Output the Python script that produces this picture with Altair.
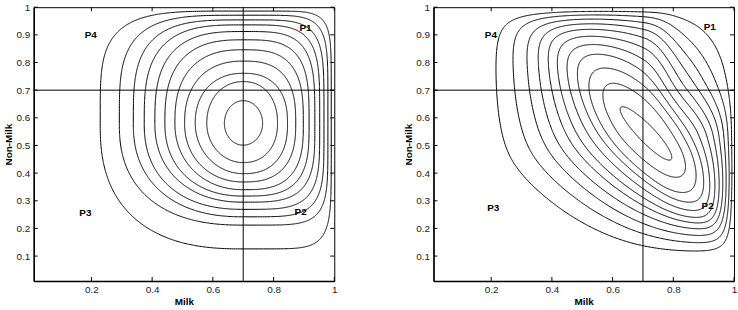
import numpy as np
import pandas as pd
import altair as alt

# ---------------- data ----------------
# Left panel: mode and the extents of each contour (innermost contour first)
left_mode = [0.70, 0.58]
left_xmin = [0.638, 0.580, 0.542, 0.507, 0.475, 0.442, 0.409, 0.374, 0.338, 0.292, 0.229]
left_xmax = [0.764, 0.813, 0.846, 0.873, 0.898, 0.917, 0.936, 0.952, 0.966, 0.979, 0.990]
left_ymin = [0.501, 0.438, 0.398, 0.368, 0.340, 0.317, 0.295, 0.269, 0.242, 0.212, 0.126]
left_ymax = [0.662, 0.731, 0.761, 0.805, 0.846, 0.882, 0.912, 0.936, 0.954, 0.971, 0.986]
# squareness of each contour in its four corners (2 = ellipse)
left_sq_tr = [2.0, 2.2, 2.4, 2.7, 3.0, 3.4, 3.8, 4.3, 5.0, 6.0, 7.5]
left_sq_tl = [2.0, 2.1, 2.2, 2.3, 2.5, 2.7, 2.9, 3.1, 3.4, 3.7, 4.2]
left_sq_bl = [2.0, 2.0, 2.0, 2.1, 2.1, 2.2, 2.2, 2.3, 2.3, 2.4, 2.5]
left_sq_br = [2.0, 2.2, 2.4, 2.6, 2.9, 3.2, 3.6, 4.1, 4.7, 5.5, 6.5]

# Right panel: mode, extents, tilt and top-right corner shape of each contour
# (innermost first); contours flatten against the top / right edges above
# these thresholds
right_mode = [0.71, 0.545]
right_xmin = [0.625, 0.568, 0.522, 0.484, 0.450, 0.418, 0.388, 0.355, 0.318, 0.272, 0.216]
right_xmax = [0.795, 0.840, 0.875, 0.900, 0.920, 0.937, 0.951, 0.963, 0.974, 0.984, 0.993]
right_ymin = [0.447, 0.385, 0.330, 0.295, 0.265, 0.240, 0.220, 0.199, 0.175, 0.149, 0.119]
right_ymax = [0.640, 0.725, 0.780, 0.830, 0.865, 0.895, 0.920, 0.940, 0.957, 0.972, 0.985]
right_tilt = [-0.90, -0.76, -0.72, -0.71, -0.67, -0.62, -0.57, -0.51, -0.45, -0.38, -0.28]
right_sq_tr = [2.0, 2.0, 1.95, 1.9, 1.8, 1.7, 1.6, 1.5, 1.4, 1.3, 1.2]
right_edge_x = 0.85
right_edge_y = 0.75

x_ticks = [0.2, 0.4, 0.6, 0.8, 1.0]
y_ticks = [0.1, 0.2, 0.3, 0.4, 0.5, 0.6, 0.7, 0.8, 0.9, 1.0]
cut = 0.7

region_labels = ["P1", "P2", "P3", "P4"]
left_label_x = [0.905, 0.889, 0.180, 0.198]
left_label_y = [0.923, 0.260, 0.254, 0.899]
right_label_x = [0.920, 0.913, 0.207, 0.199]
right_label_y = [0.929, 0.280, 0.274, 0.899]

W, H = 303, 276
FONT = "Liberation Sans"
T = np.linspace(0, 2 * np.pi, 721)


def left_table():
    parts = []
    m = left_mode
    for k in range(len(left_xmin)):
        c, s = np.cos(T), np.sin(T)
        p = np.where(c >= 0, np.where(s >= 0, left_sq_tr[k], left_sq_br[k]),
                     np.where(s >= 0, left_sq_tl[k], left_sq_bl[k]))
        X = np.sign(c) * np.abs(c) ** (2.0 / p)
        Y = np.sign(s) * np.abs(s) ** (2.0 / p)
        x = np.where(X >= 0, m[0] + X * (left_xmax[k] - m[0]), m[0] + X * (m[0] - left_xmin[k]))
        y = np.where(Y >= 0, m[1] + Y * (left_ymax[k] - m[1]), m[1] + Y * (m[1] - left_ymin[k]))
        parts.append(pd.DataFrame({"x": x, "y": y, "level": k, "i": np.arange(len(T))}))
    return pd.concat(parts, ignore_index=True)


def sat(z, tau):
    z = np.asarray(z, dtype=float)
    return np.where(z <= tau, z, 1 - (1 - tau) * np.exp(-(z - tau) / (1 - tau)))


def sat_inv(g, tau):
    g = np.asarray(g, dtype=float)
    return np.where(g <= tau, g, tau - (1 - tau) * np.log((1 - g) / (1 - tau)))


def blend(S, m, lo, hi):
    sp, sn = hi - m, m - lo
    f = sn + (sp - sn) * (0.5 + 0.5 * np.tanh(S / 0.3))
    return m + S * f


def right_table():
    parts = []
    m = right_mode
    for k in range(len(right_xmin)):
        rho = right_tilt[k]
        X = np.cos(T)
        Y = rho * np.cos(T) + np.sqrt(1 - rho ** 2) * np.sin(T)
        tr = (X > 0) & (Y > 0)
        w = np.where(tr, np.abs(np.sin(2 * np.arctan2(Y, X))), 0.0)
        q = 1 + (2.0 / right_sq_tr[k] - 1) * w
        X = np.sign(X) * np.abs(X) ** q
        Y = np.sign(Y) * np.abs(Y) ** q
        xl = blend(X, m[0], right_xmin[k], float(sat_inv(right_xmax[k], right_edge_x)))
        yl = blend(Y, m[1], right_ymin[k], float(sat_inv(right_ymax[k], right_edge_y)))
        parts.append(pd.DataFrame({"x": sat(xl, right_edge_x), "y": sat(yl, right_edge_y),
                                   "level": k, "i": np.arange(len(T))}))
    return pd.concat(parts, ignore_index=True)


def panel(df, lab_x, lab_y):
    xs = alt.Scale(domain=[0.01, 1], nice=False, zero=False)
    ys = alt.Scale(domain=[0.01, 1], nice=False, zero=False)
    xaxis = alt.Axis(values=x_ticks, format="~g", title="Milk")
    yaxis = alt.Axis(values=y_ticks, format="~g", title="Non-Milk")

    def X(f):
        return alt.X(f, type="quantitative", scale=xs, axis=xaxis)

    def Y(f):
        return alt.Y(f, type="quantitative", scale=ys, axis=yaxis)

    lines = alt.Chart(df).mark_line(color="black", strokeWidth=1).encode(
        x=X("x"), y=Y("y"), detail="level:N", order="i:Q")

    cdf = pd.DataFrame({"c": [cut]})
    vline = alt.Chart(cdf).mark_rule(color="black", strokeWidth=1).encode(x=X("c"))
    hline = alt.Chart(cdf).mark_rule(color="black", strokeWidth=1).encode(y=Y("c"))

    ldf = pd.DataFrame({"x": lab_x, "y": lab_y, "t": region_labels})
    labels = alt.Chart(ldf).mark_text(font=FONT, fontSize=10, fontWeight="bold",
                                      color="black", align="center",
                                      baseline="middle").encode(
        x=X("x"), y=Y("y"), text="t:N")

    xt = pd.DataFrame({"v": x_ticks})
    yt = pd.DataFrame({"v": y_ticks})
    tb = alt.Chart(xt).mark_rule(color="black", strokeWidth=1).encode(
        x=X("v"), y=alt.value(H), y2=alt.value(H - 4))
    tt = alt.Chart(xt).mark_rule(color="black", strokeWidth=1).encode(
        x=X("v"), y=alt.value(0), y2=alt.value(4))
    tl = alt.Chart(yt).mark_rule(color="black", strokeWidth=1).encode(
        y=Y("v"), x=alt.value(0), x2=alt.value(4))
    tr = alt.Chart(yt).mark_rule(color="black", strokeWidth=1).encode(
        y=Y("v"), x=alt.value(W - 4), x2=alt.value(W))

    return alt.layer(lines, vline, hline, labels, tb, tt, tl, tr).properties(
        width=W, height=H)


left = panel(left_table(), left_label_x, left_label_y)
right = panel(right_table(), right_label_x, right_label_y)

chart = alt.hconcat(left, right, spacing=65).properties(
    padding={"left": 3, "top": 0, "right": 0, "bottom": 0}
).configure_view(
    stroke="black", strokeWidth=1
).configure_axis(
    grid=False, ticks=False, domainColor="black", domainWidth=1.5,
    labelFont=FONT, labelFontSize=10, labelColor="#222", labelPadding=4,
    titleFont=FONT, titleFontSize=10, titleFontWeight="bold", titleColor="black",
    titlePadding=2
).configure_axisX(labelFlush=False)

chart.save("out.html", embed_options={"renderer": "svg", "actions": False})
